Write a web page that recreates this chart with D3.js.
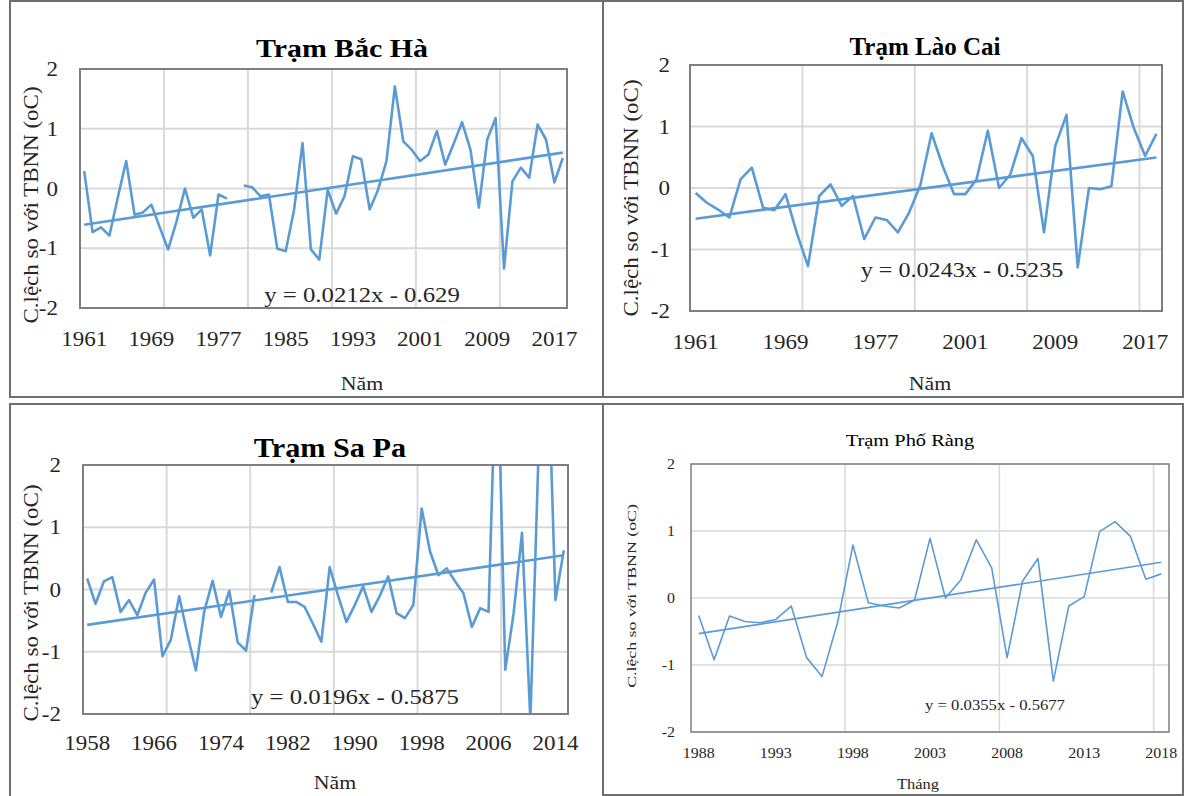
<!DOCTYPE html>
<html>
<head>
<meta charset="utf-8">
<title>Trạm</title>
<script src="https://d3js.org/d3.v7.min.js"></script>
<style>
body { margin: 0; background: #fff; }
</style>
</head>
<body>
<script>
var W = 1187, H = 796;

// --- Trạm Bắc Hà (1979 missing)
var bacHaYears = [1961,1962,1963,1964,1965,1966,1967,1968,1969,1970,1971,1972,1973,1974,1975,1976,1977,1978,1979,1980,
  1981,1982,1983,1984,1985,1986,1987,1988,1989,1990,1991,1992,1993,1994,1995,1996,1997,1998,1999,2000,
  2001,2002,2003,2004,2005,2006,2007,2008,2009,2010,2011,2012,2013,2014,2015,2016,2017,2018];
var bacHaValues = [0.29,-0.73,-0.65,-0.79,-0.15,0.46,-0.44,-0.40,-0.27,-0.65,-1.02,-0.55,0.00,-0.49,-0.35,-1.12,-0.10,-0.17,null,0.05,
  0.02,-0.13,-0.10,-1.01,-1.05,-0.35,0.76,-1.02,-1.19,-0.02,-0.42,-0.13,0.54,0.49,-0.35,-0.02,0.46,1.71,0.79,0.65,
  0.46,0.57,0.96,0.40,0.75,1.11,0.65,-0.32,0.82,1.18,-1.34,0.12,0.35,0.18,1.07,0.82,0.10,0.51];
var bacHaTicks = [1961,1969,1977,1985,1993,2001,2009,2017];
var bacHaTrend = [0.0212, -0.629];

// --- Trạm Lào Cai (1961-1980, 1997-2018)
var laoCaiYears = [1961,1962,1963,1964,1965,1966,1967,1968,1969,1970,1971,1972,1973,1974,1975,1976,1977,1978,1979,1980,
  1997,1998,1999,2000,2001,2002,2003,2004,2005,2006,2007,2008,2009,2010,2011,2012,2013,2014,2015,2016,2017,2018];
var laoCaiValues = [-0.08,-0.24,-0.35,-0.48,0.14,0.33,-0.32,-0.36,-0.10,-0.73,-1.27,-0.13,0.06,-0.29,-0.13,-0.83,-0.48,-0.52,-0.72,-0.40,
  0.05,0.89,0.35,-0.10,-0.10,0.14,0.93,0.00,0.22,0.81,0.52,-0.72,0.68,1.19,-1.29,0.00,-0.02,0.03,1.57,0.97,0.52,0.88];
var laoCaiTicks = [1961,1969,1977,2001,2009,2017];
var laoCaiTrend = [0.0243, -0.5235];

// --- Trạm Sa Pa (1979 missing)
var saPaYears = [1958,1959,1960,1961,1962,1963,1964,1965,1966,1967,1968,1969,1970,1971,1972,1973,1974,1975,1976,1977,
  1978,1979,1980,1981,1982,1983,1984,1985,1986,1987,1988,1989,1990,1991,1992,1993,1994,1995,1996,1997,
  1998,1999,2000,2001,2002,2003,2004,2005,2006,2007,2008,2009,2010,2011,2012,2013,2014,2015];
var saPaValues = [0.18,-0.23,0.13,0.20,-0.36,-0.17,-0.41,-0.05,0.16,-1.07,-0.81,-0.11,-0.73,-1.30,-0.35,0.14,-0.44,-0.02,-0.85,-0.98,
  -0.09,null,-0.05,0.36,-0.20,-0.20,-0.28,-0.55,-0.84,0.36,-0.10,-0.52,-0.25,0.05,-0.36,-0.10,0.21,-0.38,-0.46,-0.25,
  1.30,0.61,0.23,0.34,0.13,-0.06,-0.60,-0.30,-0.36,4.20,-1.29,-0.38,0.91,-2.10,2.30,4.20,-0.17,0.63];
var saPaTicks = [1958,1966,1974,1982,1990,1998,2006,2014];
var saPaTrend = [0.0196, -0.5875];

// --- Trạm Phố Ràng
var phoRangYears = [1988,1989,1990,1991,1992,1993,1994,1995,1996,1997,1998,1999,2000,2001,2002,2003,
  2004,2005,2006,2007,2008,2009,2010,2011,2012,2013,2014,2015,2016,2017,2018];
var phoRangValues = [-0.26,-0.92,-0.27,-0.35,-0.37,-0.32,-0.12,-0.89,-1.17,-0.37,0.79,-0.07,-0.12,-0.15,-0.03,0.89,
  0.00,0.27,0.87,0.45,-0.89,0.25,0.59,-1.24,-0.12,0.02,0.99,1.14,0.92,0.28,0.36];
var phoRangTicks = [1988,1993,1998,2003,2008,2013,2018];
var phoRangTrend = [0.0355, -0.5677];

var yTicks = [-2, -1, 0, 1, 2];
var yTitle = "C.lệch so với TBNN (oC)";
var FONT = "'Liberation Serif', 'Times New Roman', serif";

var svg = d3.select("body").append("svg").attr("width", W).attr("height", H)
  .attr("font-family", FONT);

// panel frames
var frames = [[10, 1, 603, 397], [603, 1, 1183, 397], [10, 404, 603, 797], [603, 404, 1183, 795]];
svg.selectAll("rect.frame").data(frames).enter().append("rect")
  .attr("class", "frame")
  .attr("x", function (d) { return d[0]; })
  .attr("y", function (d) { return d[1]; })
  .attr("width", function (d) { return d[2] - d[0]; })
  .attr("height", function (d) { return d[3] - d[1]; })
  .attr("fill", "none").attr("stroke", "#6f6f6f").attr("stroke-width", 2);

// horizontally stretched text (the picture's text is wider than the font)
function label(g, x, y, s, size, sx, anchor, weight, fill) {
  return g.append("text")
    .attr("transform", "translate(" + x + "," + y + ") scale(" + sx + ",1)")
    .attr("text-anchor", anchor || "middle").attr("dy", "0.35em")
    .attr("font-size", size).attr("font-weight", weight || "normal")
    .attr("fill", fill || "#262626")
    .text(s);
}

function drawPanel(o, id) {
  var years = o.years, vals = o.values;
  var x = d3.scaleBand().domain(years).range([o.l, o.r]);
  var y = d3.scaleLinear().domain([-2, 2]).range([o.b, o.t]);
  var cx = function (yr) { return x(yr) + x.bandwidth() / 2; };
  var g = svg.append("g");

  g.selectAll("line.hg").data(yTicks).enter().append("line")
    .attr("x1", o.l).attr("x2", o.r)
    .attr("y1", function (d) { return y(d); }).attr("y2", function (d) { return y(d); })
    .attr("stroke", "#d9d9d9").attr("stroke-width", o.grid);
  var vg = years.filter(function (d, i) { return i > 0 && i % 10 === 0; });
  g.selectAll("line.vg").data(vg).enter().append("line")
    .attr("x1", function (d) { return x(d); }).attr("x2", function (d) { return x(d); })
    .attr("y1", o.t).attr("y2", o.b)
    .attr("stroke", "#d9d9d9").attr("stroke-width", o.grid);

  g.append("clipPath").attr("id", "clip" + id).append("rect")
    .attr("x", o.l).attr("y", o.t).attr("width", o.r - o.l).attr("height", o.b - o.t);

  var pts = years.map(function (d, i) { return { yr: d, v: vals[i] }; });
  var line = d3.line()
    .defined(function (d) { return d.v !== null; })
    .x(function (d) { return cx(d.yr); })
    .y(function (d) { return y(d.v); });
  g.append("path").datum(pts)
    .attr("clip-path", "url(#clip" + id + ")")
    .attr("d", line)
    .attr("fill", "none").attr("stroke", "#5b9bd5")
    .attr("stroke-width", o.lw).attr("stroke-linejoin", "round");

  // linear trend from the printed equation, x = 1..n
  var n = years.length;
  var tr = [{ yr: years[0], v: o.trend[0] * 1 + o.trend[1] },
            { yr: years[n - 1], v: o.trend[0] * n + o.trend[1] }];
  g.append("path").datum(tr)
    .attr("d", line)
    .attr("fill", "none").attr("stroke", "#5b9bd5").attr("stroke-width", o.lw);

  g.append("rect")
    .attr("x", o.l).attr("y", o.t).attr("width", o.r - o.l).attr("height", o.b - o.t)
    .attr("fill", "none").attr("stroke", "#7f7f7f").attr("stroke-width", o.border);

  yTicks.forEach(function (d) {
    label(g, o.l - o.yPad, y(d), d, o.tickSize, o.sx, "end");
  });
  o.ticks.forEach(function (d) {
    label(g, cx(d), o.b + o.xPad, d, o.tickSize, o.sx);
  });

  label(g, o.titleX, o.titleY, o.title, o.titleSize, o.titleSx, "middle", o.titleWeight, "#000");

  g.append("text")
    .attr("transform", "translate(" + o.yTitleX + "," + o.yTitleY + ") rotate(-90) scale(" + o.yTitleSx + ",1)")
    .attr("text-anchor", "middle").attr("dy", "0.35em")
    .attr("font-size", o.yTitleSize).attr("fill", "#262626")
    .text(yTitle);

  label(g, o.xTitleX, o.xTitleY, o.xTitle, o.xTitleSize, o.sx);

  var eq = "y = " + o.trend[0] + "x - " + (-o.trend[1]);
  label(g, o.eqX, o.eqY, eq, o.eqSize, o.eqSx);
}

drawPanel({
  years: bacHaYears, values: bacHaValues, ticks: bacHaTicks, trend: bacHaTrend,
  l: 80, r: 567, t: 69, b: 308, lw: 2.6, grid: 2, border: 2,
  tickSize: 20, sx: 1.15, yPad: 22, xPad: 31,
  title: "Trạm Bắc Hà", titleX: 342, titleY: 48, titleSize: 26, titleSx: 1.15, titleWeight: "bold",
  yTitleX: 31, yTitleY: 205, yTitleSize: 20, yTitleSx: 1.15,
  xTitle: "Năm", xTitleX: 362, xTitleY: 383, xTitleSize: 19,
  eqX: 362, eqY: 295, eqSize: 21, eqSx: 1.18
}, 1);

drawPanel({
  years: laoCaiYears, values: laoCaiValues, ticks: laoCaiTicks, trend: laoCaiTrend,
  l: 690, r: 1162, t: 65, b: 311, lw: 2.6, grid: 2, border: 2,
  tickSize: 20, sx: 1.15, yPad: 20, xPad: 31,
  title: "Trạm Lào Cai", titleX: 925, titleY: 46, titleSize: 25, titleSx: 1.0, titleWeight: "bold",
  yTitleX: 631, yTitleY: 198, yTitleSize: 20, yTitleSx: 1.15,
  xTitle: "Năm", xTitleX: 930, xTitleY: 383, xTitleSize: 19,
  eqX: 962, eqY: 270, eqSize: 21, eqSx: 1.15
}, 2);

drawPanel({
  years: saPaYears, values: saPaValues, ticks: saPaTicks, trend: saPaTrend,
  l: 83, r: 568, t: 465, b: 714, lw: 2.6, grid: 2, border: 2,
  tickSize: 20, sx: 1.15, yPad: 22, xPad: 29,
  title: "Trạm Sa Pa", titleX: 330, titleY: 448, titleSize: 27, titleSx: 1.12, titleWeight: "bold",
  yTitleX: 31, yTitleY: 603, yTitleSize: 20, yTitleSx: 1.15,
  xTitle: "Năm", xTitleX: 335, xTitleY: 782, xTitleSize: 19,
  eqX: 355, eqY: 697, eqSize: 21, eqSx: 1.18
}, 3);

drawPanel({
  years: phoRangYears, values: phoRangValues, ticks: phoRangTicks, trend: phoRangTrend,
  l: 691, r: 1169, t: 464, b: 732, lw: 1.6, grid: 1.5, border: 1.5,
  tickSize: 14.5, sx: 1.1, yPad: 16, xPad: 21,
  title: "Trạm Phố Ràng", titleX: 910, titleY: 440, titleSize: 17, titleSx: 1.2, titleWeight: "normal",
  yTitleX: 632, yTitleY: 596, yTitleSize: 11.5, yTitleSx: 1.55,
  xTitle: "Tháng", xTitleX: 918, xTitleY: 784, xTitleSize: 15,
  eqX: 995, eqY: 705, eqSize: 14.5, eqSx: 1.15
}, 4);
</script>
</body>
</html>
